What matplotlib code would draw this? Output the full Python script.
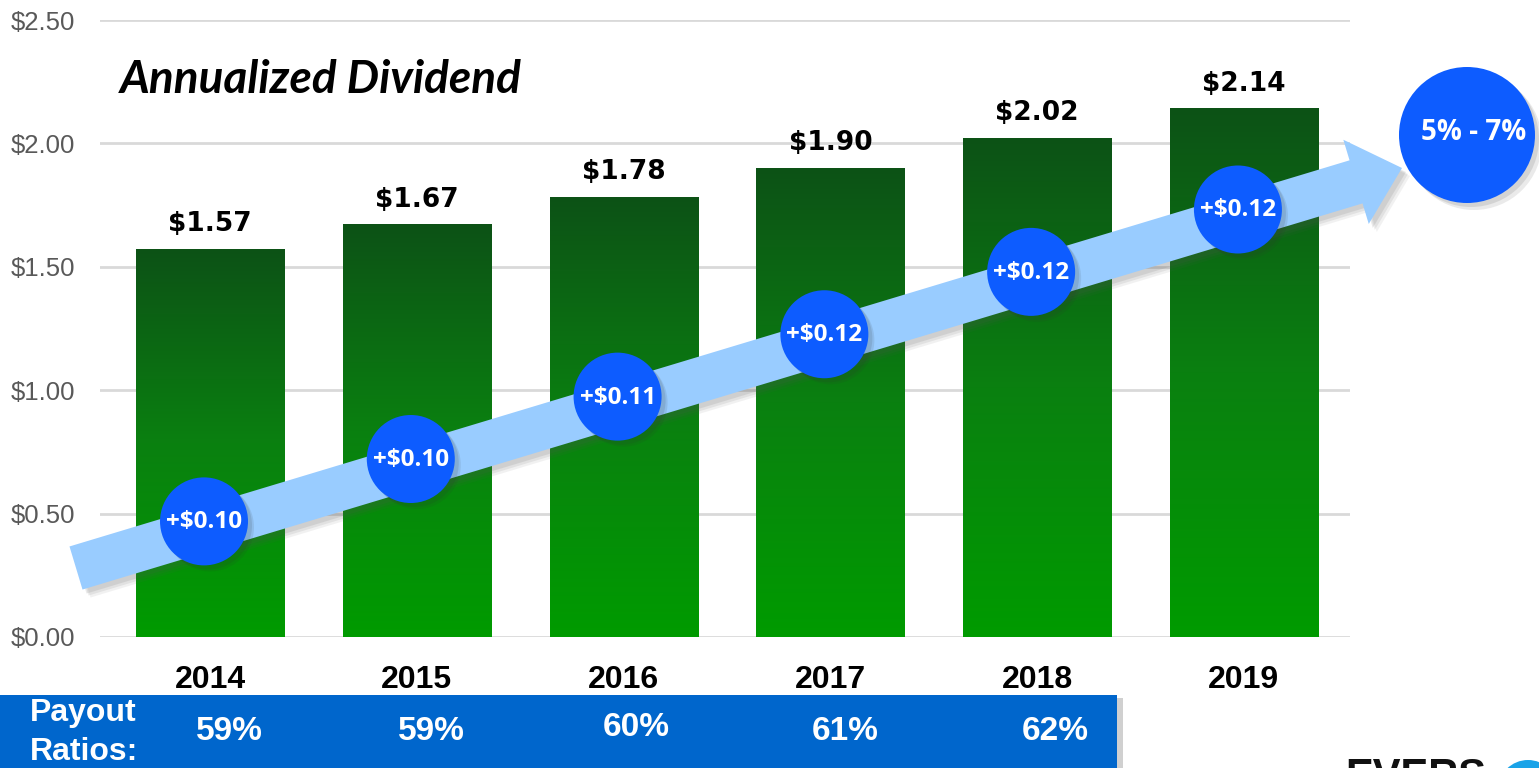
import numpy as np
import matplotlib
matplotlib.use("Agg")
import matplotlib.pyplot as plt
from matplotlib.colors import LinearSegmentedColormap
from matplotlib.patches import Circle, FancyArrow, Rectangle

# data
years = ["2014", "2015", "2016", "2017", "2018", "2019"]
dividend = [1.57, 1.67, 1.78, 1.90, 2.02, 2.14]
increase = ["+$0.10", "+$0.10", "+$0.11", "+$0.12", "+$0.12", "+$0.12"]
payout = ["59%", "59%", "60%", "61%", "62%"]
growth_label = "5% - 7%"
yticks = [0.0, 0.5, 1.0, 1.5, 2.0, 2.5]

W, H = 1539, 768
fig = plt.figure(figsize=(W / 100, H / 100), dpi=100)

ax = fig.add_axes([100 / W, 131 / H, 1250 / W, 617 / H])
green = LinearSegmentedColormap.from_list("g", ["#009b00", "#0a8010", "#0d5216"])
bw = 0.716
grad = np.linspace(0, 1, 256).reshape(-1, 1)
for i, v in enumerate(dividend):
    ax.imshow(grad, cmap=green, origin="lower", aspect="auto",
              extent=[i - bw / 2, i + bw / 2, 0, v], zorder=2)
    ax.text(i, v + 0.05, f"${v:.2f}", ha="center", va="bottom",
            fontsize=19, fontweight="bold", family="DejaVu Sans", zorder=4)

ax.set_xlim(-0.532, 5.513)
ax.set_ylim(0, 2.5)
ax.set_yticks(yticks)
ax.set_yticklabels([f"${t:.2f}" for t in yticks], fontsize=18.5,
                   color="#595959", family="Liberation Sans")
ax.set_xticks(range(len(years)))
ax.set_xticklabels(years, fontsize=23, fontweight="bold", family="Liberation Sans")
ax.tick_params(axis="y", length=0, pad=18)
ax.tick_params(axis="x", length=0, pad=20)
ax.grid(axis="y", color="#d9d9d9", linewidth=2, zorder=0)
ax.set_axisbelow(True)
for s in ax.spines.values():
    s.set_visible(False)

# overlay in pixel coordinates (y down) for the decorations
ov = fig.add_axes([0, 0, 1, 1], zorder=5)
ov.set_xlim(0, W)
ov.set_ylim(H, 0)
ov.axis("off")
ov.patch.set_alpha(0)

ov.text(120, 80, "Annualized Dividend", fontsize=33, fontweight="bold",
        style="italic", family="Lato", ha="left", va="center")

# growth arrow
x0, y0, x1, y1 = 76, 568, 1402, 168
for k, a in [(8, 0.08), (6, 0.1), (4, 0.12)]:
    ov.add_patch(FancyArrow(x0 + k, y0 + k, x1 - x0, y1 - y0, width=45, head_width=88,
                            head_length=48, length_includes_head=True,
                            color="#555555", alpha=a, lw=0))
ov.add_patch(FancyArrow(x0, y0, x1 - x0, y1 - y0, width=45, head_width=88,
                        head_length=48, length_includes_head=True,
                        color="#99ccff", lw=0))

slope = (y1 - y0) / (x1 - x0)
r = 44
for i, lab in enumerate(increase):
    cx = fig.transFigure.inverted().transform(ax.transData.transform((i, 0)))[0] * W - 6
    cy = y0 + slope * (cx - x0) - 8
    for k, a in [(6, 0.1), (4, 0.12)]:
        ov.add_patch(Circle((cx + k, cy + k), r, color="#333333", alpha=a, lw=0))
    ov.add_patch(Circle((cx, cy), r, color="#0d5cff", lw=0))
    ov.text(cx, cy + 1, lab, color="white", fontsize=17.5, fontweight="bold",
            family="Open Sans", ha="center", va="center")

for k, a in [(7, 0.1), (4, 0.12)]:
    ov.add_patch(Circle((1467 + k, 135 + k), 68, color="#333333", alpha=a, lw=0))
ov.add_patch(Circle((1467, 135), 68, color="#0d5cff", lw=0))
ov.text(1474, 133, growth_label, color="white", fontsize=20, fontweight="bold",
        family="Open Sans", ha="center", va="center")

# payout ratio band
ov.add_patch(Rectangle((6, 698), 1117, 80, color="#444444", alpha=0.25, lw=0))
ov.add_patch(Rectangle((0, 695), 1117, 80, color="#0066cc", lw=0))
ov.text(30, 713, "Payout", color="white", fontsize=23, fontweight="bold",
        family="Liberation Sans", ha="left", va="center")
ov.text(30, 752, "Ratios:", color="white", fontsize=23, fontweight="bold",
        family="Liberation Sans", ha="left", va="center")
px = [229, 431, 636, 845, 1055]
py = [731, 731, 727, 731, 732]
for x, y, lab in zip(px, py, payout):
    ov.text(x, y, lab, color="white", fontsize=24, fontweight="bold",
            family="Liberation Sans", ha="center", va="center")

# partial logo at the bottom edge
ov.text(1345, 757, "EVERS", fontsize=30, fontweight="bold", family="Liberation Sans",
        ha="left", va="top", color="#111111")
ov.add_patch(Circle((1528, 790), 30, color="#1aa3e8", lw=0))

fig.savefig("out.png", dpi=100)
